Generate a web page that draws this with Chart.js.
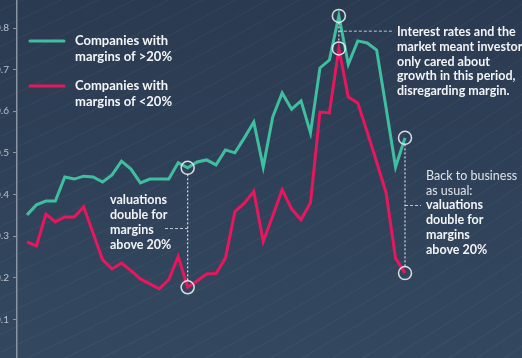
<!DOCTYPE html>
<html>
<head>
<meta charset="utf-8">
<script src="https://cdn.jsdelivr.net/npm/chart.js@4.4.0/dist/chart.umd.min.js"></script>
<style>
  html, body { margin: 0; padding: 0; overflow: hidden; background: #2e4159; }
  #wrap { position: relative; width: 534px; height: 358px; margin-left: -12px; }
</style>
</head>
<body>
<div id="wrap"><canvas id="myChart" width="534" height="358"></canvas></div>
<script>
// period index (quarters), values are valuation multiples
const periods = [0, 1, 2, 3, 4, 5, 6, 7, 8, 9, 10, 11, 12, 13, 14, 15, 16, 17, 18, 19, 20,
  21, 22, 23, 24, 25, 26, 27, 28, 29, 30, 31, 32, 33, 34, 35, 36, 37, 38, 39, 40];
const highMargin = [0.351, 0.375, 0.384, 0.384, 0.442, 0.437, 0.444, 0.442, 0.430, 0.447, 0.480,
  0.461, 0.428, 0.437, 0.437, 0.437, 0.476, 0.464, 0.478, 0.483, 0.471, 0.507, 0.500, 0.536,
  0.574, 0.466, 0.586, 0.644, 0.605, 0.625, 0.548, 0.704, 0.723, 0.829, 0.713, 0.769, 0.764,
  0.747, 0.608, 0.466, 0.536];
const lowMargin = [0.286, 0.276, 0.353, 0.334, 0.346, 0.346, 0.370, 0.307, 0.243, 0.221, 0.235,
  0.217, 0.197, 0.185, 0.173, 0.195, 0.251, 0.177, 0.192, 0.209, 0.210, 0.247, 0.359, 0.379,
  0.407, 0.287, 0.348, 0.411, 0.365, 0.339, 0.380, 0.598, 0.596, 0.751, 0.634, 0.620, 0.550,
  0.478, 0.404, 0.247, 0.211];
const yTicks = [0.1, 0.2, 0.3, 0.4, 0.5, 0.6, 0.7, 0.8];
const markedPeriods = [17, 33, 40];

const highLabel = ['Companies with', 'margins of >20%'];
const lowLabel = ['Companies with', 'margins of <20%'];
const noteLeft = ['valuations', 'double for', 'margins', 'above 20%'];
const notePeak = ['Interest rates and the', 'market meant investors', 'only cared about',
  'growth in this period,', 'disregarding margin.'];
const noteRightPlain = ['Back to business', 'as usual:'];
const noteRightBold = ['valuations', 'double for', 'margins', 'above 20%'];

const TEAL = '#3fbf9f';
const RED = '#e8165c';
const OFF = 12; // canvas is shifted left so the tick labels get clipped like the original

const toPoints = arr => periods.map((p, i) => ({ x: p, y: arr[i] }));

const background = {
  id: 'background',
  beforeDraw(chart) {
    const { ctx, width, height } = chart;
    ctx.save();
    const g = ctx.createLinearGradient(0, 0, 0, height);
    g.addColorStop(0, '#2a3a51');
    g.addColorStop(1, '#33485f');
    ctx.fillStyle = g;
    ctx.fillRect(0, 0, width, height);
    // faint diagonal streaks
    ctx.strokeStyle = 'rgba(255,255,255,0.035)';
    ctx.lineWidth = 1.5;
    for (let i = -20; i < 40; i++) {
      ctx.beginPath();
      ctx.moveTo(0, i * 18 + 160);
      ctx.quadraticCurveTo(width / 2, i * 18 + 40, width, i * 18 - 140);
      ctx.stroke();
    }
    ctx.restore();
  }
};

const notes = {
  id: 'notes',
  afterDatasetsDraw(chart) {
    const { ctx } = chart;
    const xs = chart.scales.x, ys = chart.scales.y;
    ctx.save();

    // circles, dotted connectors, leader lines
    const mids = [];
    markedPeriods.forEach(p => {
      const i = periods.indexOf(p);
      const px = xs.getPixelForValue(p);
      const yHi = ys.getPixelForValue(highMargin[i]);
      const yLo = ys.getPixelForValue(lowMargin[i]);
      mids.push({ px, mid: (yHi + yLo) / 2 });
      ctx.strokeStyle = 'rgba(235,238,242,0.9)';
      ctx.lineWidth = 1.2;
      ctx.setLineDash([2, 2]);
      ctx.beginPath();
      ctx.moveTo(px, yHi + 6.5);
      ctx.lineTo(px, yLo - 6.5);
      ctx.stroke();
      ctx.setLineDash([]);
      ctx.lineWidth = 1.5;
      [yHi, yLo].forEach(py => {
        ctx.beginPath();
        ctx.arc(px, py, 6.5, 0, Math.PI * 2);
        ctx.stroke();
      });
    });

    ctx.setLineDash([3, 2]);
    ctx.lineWidth = 1;
    ctx.strokeStyle = 'rgba(220,225,232,0.85)';
    const leader = (x1, x2, y) => {
      ctx.beginPath();
      ctx.moveTo(x1, y);
      ctx.lineTo(x2, y);
      ctx.stroke();
    };
    leader(165 + OFF, mids[0].px, mids[0].mid + 1);
    leader(mids[1].px, 393 + OFF, mids[1].mid - 1);
    leader(mids[2].px, 421 + OFF, mids[2].mid);
    ctx.setLineDash([]);

    ctx.textBaseline = 'middle';
    ctx.textAlign = 'left';
    const lines = (arr, x, y, step) => arr.forEach((t, k) => ctx.fillText(t, x, y + k * step));

    ctx.fillStyle = '#f2f4f6';
    ctx.font = 'bold 12.5px Lato';
    lines(noteLeft, 110 + OFF, 200, 15);
    lines(notePeak, 397 + OFF, 32, 14.8);
    ctx.font = '12.5px Lato';
    ctx.fillStyle = '#dfe3e8';
    lines(noteRightPlain, 426 + OFF, 176, 14.7);
    ctx.font = 'bold 12.5px Lato';
    ctx.fillStyle = '#f2f4f6';
    lines(noteRightBold, 426 + OFF, 176 + 2 * 14.7, 14.7);

    // legend
    ctx.lineWidth = 3;
    ctx.lineCap = 'round';
    [[TEAL, highLabel, 41], [RED, lowLabel, 86]].forEach(([col, label, y]) => {
      ctx.strokeStyle = col;
      ctx.beginPath();
      ctx.moveTo(30 + OFF, y);
      ctx.lineTo(64 + OFF, y);
      ctx.stroke();
      ctx.font = 'bold 13px Lato';
      ctx.fillStyle = '#f4f6f8';
      lines(label, 75 + OFF, y, 16);
    });
    ctx.restore();
  }
};

new Chart(document.getElementById('myChart').getContext('2d'), {
  type: 'line',
  data: {
    datasets: [{
      label: highLabel.join(' '),
      data: toPoints(highMargin),
      borderColor: TEAL,
      borderWidth: 3,
      pointRadius: 0,
      tension: 0
    }, {
      label: lowLabel.join(' '),
      data: toPoints(lowMargin),
      borderColor: RED,
      borderWidth: 3,
      pointRadius: 0,
      tension: 0
    }]
  },
  options: {
    responsive: false,
    animation: false,
    layout: { padding: 0 },
    plugins: { legend: { display: false }, tooltip: { enabled: false } },
    scales: {
      x: { type: 'linear', display: false, min: -1.058, max: 52.38 },
      y: {
        min: 0.007,
        max: 0.8673,
        afterBuildTicks: axis => { axis.ticks = yTicks.map(v => ({ value: v })); },
        afterFit: axis => { axis.width = 29; axis.paddingTop = 0; axis.paddingBottom = 0; },
        border: { color: '#8893a3', width: 1.5 },
        grid: { drawOnChartArea: false, drawTicks: true, tickLength: 4, color: '#8893a3' },
        ticks: {
          color: '#b9c1cc',
          padding: 4,
          font: { family: 'Lato', size: 10 },
          callback: v => v.toFixed(1)
        }
      }
    }
  },
  plugins: [background, notes]
});
</script>
</body>
</html>
